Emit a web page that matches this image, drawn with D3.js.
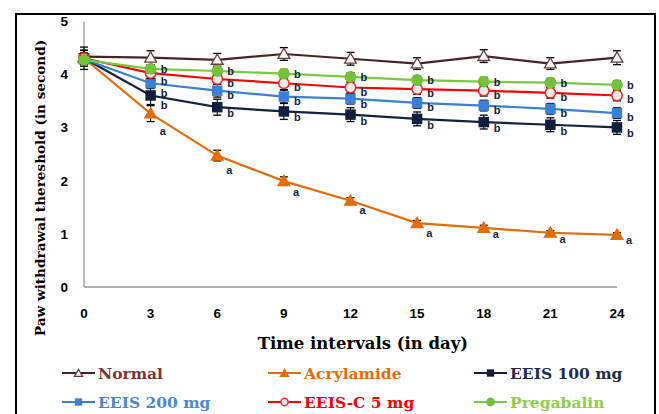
<!DOCTYPE html>
<html>
<head>
<meta charset="utf-8">
<script src="https://cdn.jsdelivr.net/npm/d3@7"></script>
<style>
  body { margin: 0; background: #fff; }
  svg { display: block; }
</style>
</head>
<body>
<div id="chart"></div>
<script>
// days on the x axis
var days = [0, 3, 6, 9, 12, 15, 18, 21, 24];

var seriesNames = ["Normal", "Acrylamide", "EEIS 100 mg", "EEIS 200 mg", "EEIS-C 5 mg", "Pregabalin"];

var normalVals     = [4.33, 4.31, 4.27, 4.38, 4.29, 4.20, 4.34, 4.20, 4.31];
var acrylamideVals = [4.30, 3.26, 2.47, 1.99, 1.62, 1.20, 1.11, 1.02, 0.98];
var eeis100Vals    = [4.30, 3.60, 3.38, 3.30, 3.24, 3.16, 3.10, 3.05, 3.00];
var eeis200Vals    = [4.28, 3.83, 3.69, 3.58, 3.54, 3.46, 3.41, 3.35, 3.27];
var eeisCVals      = [4.30, 4.02, 3.91, 3.83, 3.75, 3.72, 3.69, 3.65, 3.60];
var pregabalinVals = [4.27, 4.10, 4.06, 4.01, 3.95, 3.89, 3.86, 3.84, 3.80];

// error bars (+/-)
var normalErr     = [0.12, 0.13, 0.12, 0.12, 0.12, 0.11, 0.12, 0.11, 0.13];
var acrylamideErr = [0.15, 0.15, 0.10, 0.08, 0.06, 0.05, 0.05, 0.04, 0.04];
var eeis100Err    = [0.21, 0.17, 0.15, 0.15, 0.13, 0.13, 0.13, 0.13, 0.13];
var eeis200Err    = [0.10, 0.10, 0.12, 0.12, 0.10, 0.10, 0.10, 0.10, 0.10];
var eeisCErr      = [0.10, 0.10, 0.10, 0.12, 0.10, 0.10, 0.10, 0.10, 0.10];
var pregabalinErr = [0.08, 0.08, 0.08, 0.08, 0.08, 0.08, 0.08, 0.08, 0.08];

// significance letters per series ("" = none)
var normalSig = ["", "", "", "", "", "", "", "", ""];
var acrylSig  = ["", "a", "a", "a", "a", "a", "a", "a", "a"];
var treatSig  = ["", "b", "b", "b", "b", "b", "b", "b", "b"];

var yTicks = [0, 1, 2, 3, 4, 5];

// lbl = vertical nudge of the "b" letters so they don't pile up
var series = [
  {name: seriesNames[0], vals: normalVals, err: normalErr, sig: normalSig, line: "#4b2323", text: "#7b3535", shape: "tri", fill: "#fff", stroke: "#6b3b3b", lbl: 0},
  {name: seriesNames[1], vals: acrylamideVals, err: acrylamideErr, sig: acrylSig, line: "#e46c0a", text: "#e46c0a", shape: "tri", fill: "#e46c0a", stroke: "#e46c0a", lbl: 0},
  {name: seriesNames[2], vals: eeis100Vals, err: eeis100Err, sig: treatSig, line: "#14223f", text: "#1f2d4d", shape: "sq", fill: "#0f1f3d", stroke: "#0f1f3d", lbl: 10},
  {name: seriesNames[3], vals: eeis200Vals, err: eeis200Err, sig: treatSig, line: "#3c7fd6", text: "#4a88d6", shape: "sq", fill: "#3c7fd6", stroke: "#3c7fd6", lbl: 8},
  {name: seriesNames[4], vals: eeisCVals, err: eeisCErr, sig: treatSig, line: "#ff0000", text: "#ff0000", shape: "circ", fill: "#ececec", stroke: "#ff2020", lbl: 8},
  {name: seriesNames[5], vals: pregabalinVals, err: pregabalinErr, sig: treatSig, line: "#7ac943", text: "#8ccf4c", shape: "circ", fill: "#74c23c", stroke: "#74c23c", lbl: 4}
];

var W = 659, H = 414;
var svg = d3.select("#chart").append("svg")
  .attr("width", W).attr("height", H);

// outer frame
svg.append("rect")
  .attr("x", 16).attr("y", 14)
  .attr("width", 639).attr("height", 420)
  .attr("fill", "none").attr("stroke", "#000").attr("stroke-width", 2);

var x = d3.scaleLinear().domain([0, 24]).range([84, 617]);
var y = d3.scaleLinear().domain([0, 5]).range([287, 21]);

// axes lines (gray)
svg.append("line")
  .attr("x1", x(0)).attr("x2", x(0))
  .attr("y1", y(5) + 1).attr("y2", y(0))
  .attr("stroke", "#999").attr("stroke-width", 1.3);
svg.append("line")
  .attr("x1", x(0)).attr("x2", x(24))
  .attr("y1", y(0)).attr("y2", y(0))
  .attr("stroke", "#999").attr("stroke-width", 1.3);

// tick labels
svg.selectAll(".ytick").data(yTicks).enter().append("text")
  .attr("class", "ytick")
  .attr("x", 68).attr("y", function(d) { return y(d) + 5; })
  .attr("text-anchor", "end")
  .attr("font-family", "Liberation Sans, Arial, sans-serif")
  .attr("font-weight", "bold").attr("font-size", 13.5)
  .text(function(d) { return d; });

svg.selectAll(".xtick").data(days).enter().append("text")
  .attr("class", "xtick")
  .attr("x", function(d) { return x(d); }).attr("y", 318)
  .attr("text-anchor", "middle")
  .attr("font-family", "Liberation Sans, Arial, sans-serif")
  .attr("font-weight", "bold").attr("font-size", 13.5)
  .text(function(d) { return d; });

// axis titles
svg.append("text")
  .attr("transform", "translate(45,188) rotate(-90)")
  .attr("text-anchor", "middle")
  .attr("font-family", "DejaVu Serif, serif")
  .attr("font-weight", "bold").attr("font-size", 13.6)
  .text("Paw withdrawal thereshold (in second)");

svg.append("text")
  .attr("x", 363).attr("y", 349)
  .attr("text-anchor", "middle")
  .attr("font-family", "DejaVu Serif, serif")
  .attr("font-weight", "bold").attr("font-size", 16.5)
  .text("Time intervals (in day)");

function drawMarker(g, s, cx, cy, k) {
  k = k || 1;
  if (s.shape == "tri") {
    g.append("path")
      .attr("d", d3.symbol().type(d3.symbolTriangle).size(60 * k * k)())
      .attr("transform", "translate(" + cx + "," + (cy + 1) + ")")
      .attr("fill", s.fill).attr("stroke", s.stroke).attr("stroke-width", 1.3);
  } else if (s.shape == "sq") {
    var a = 10.5 * k;
    g.append("rect")
      .attr("x", cx - a / 2).attr("y", cy - a / 2)
      .attr("width", a).attr("height", a)
      .attr("fill", s.fill);
  } else {
    g.append("circle")
      .attr("cx", cx).attr("cy", cy).attr("r", 5.2 * k)
      .attr("fill", s.fill).attr("stroke", s.stroke).attr("stroke-width", 1.5);
  }
}

var line = d3.line()
  .x(function(d, i) { return x(days[i]); })
  .y(function(d) { return y(d); });

series.forEach(function(s) {
  var g = svg.append("g");
  g.append("path")
    .datum(s.vals)
    .attr("d", line)
    .attr("fill", "none")
    .attr("stroke", s.line).attr("stroke-width", 2.2);

  // error bars
  s.vals.forEach(function(v, i) {
    var cx = x(days[i]);
    var top = y(v + s.err[i]), bot = y(v - s.err[i]);
    g.append("line").attr("x1", cx).attr("x2", cx).attr("y1", top).attr("y2", bot)
      .attr("stroke", "#000").attr("stroke-width", 1);
    [top, bot].forEach(function(yy) {
      g.append("line").attr("x1", cx - 4).attr("x2", cx + 4).attr("y1", yy).attr("y2", yy)
        .attr("stroke", "#000").attr("stroke-width", 1.3);
    });
  });

  s.vals.forEach(function(v, i) {
    drawMarker(g, s, x(days[i]), y(v));
  });
});

// significance letters
var labels = [];
series.forEach(function(s) {
  s.vals.forEach(function(v, i) {
    if (!s.sig[i]) return;
    var isA = s.sig[i] == "a";
    var dy = s.lbl;
    if (isA) { // push below the falling line, more where it is steep
      var drop = y(v) - y(s.vals[i - 1]);
      dy = 9 + 0.22 * drop;
    }
    labels.push({day: i, txt: s.sig[i], lx: x(days[i]) + (isA ? 9 : 10), ly: y(v) + dy});
  });
});
// stack the "b" letters at each day so they keep apart
d3.groups(labels.filter(function(d) { return d.txt == "b"; }), function(d) { return d.day; })
  .forEach(function(grp) {
    var arr = grp[1].sort(function(a, b) { return a.ly - b.ly; });
    for (var k = 1; k < arr.length; k++) {
      if (arr[k].ly - arr[k - 1].ly < 12) arr[k].ly = arr[k - 1].ly + 12;
    }
  });

svg.selectAll(".sig").data(labels).enter().append("text")
  .attr("class", "sig")
  .attr("x", function(d) { return d.lx; })
  .attr("y", function(d) { return d.ly; })
  .attr("font-family", "Liberation Sans, Arial, sans-serif")
  .attr("font-weight", "bold").attr("font-size", 11)
  .attr("fill", "#13233f")
  .text(function(d) { return d.txt; });

// legend
var legX = [62, 268, 474], legY = [373, 402];
series.forEach(function(s, i) {
  var lx = legX[i % 3], ly = legY[Math.floor(i / 3)];
  var g = svg.append("g");
  g.append("line").attr("x1", lx).attr("x2", lx + 33).attr("y1", ly).attr("y2", ly)
    .attr("stroke", s.line).attr("stroke-width", 2);
  drawMarker(g, s, lx + 16.5, ly, 0.7);
  g.append("text")
    .attr("x", lx + 36).attr("y", ly + 5.5)
    .attr("font-family", "DejaVu Serif, serif")
    .attr("font-weight", "bold").attr("font-size", 15.5)
    .attr("fill", s.text)
    .text(s.name);
});
</script>
</body>
</html>
